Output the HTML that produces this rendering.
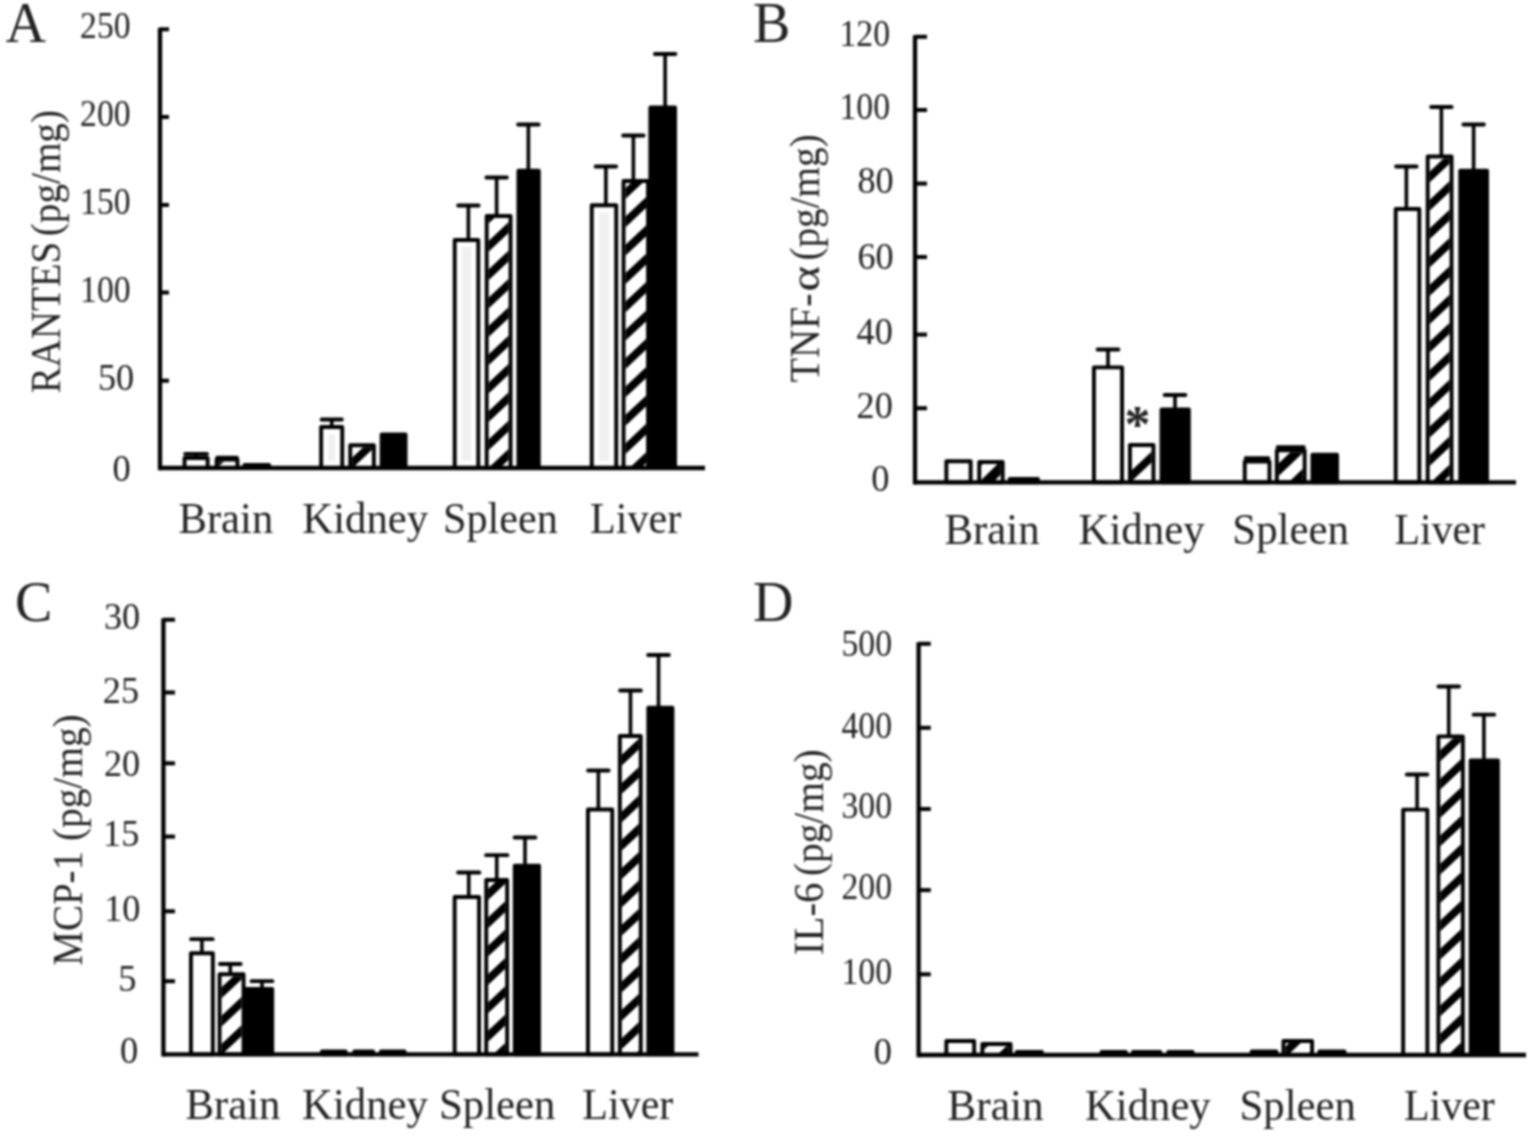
<!DOCTYPE html>
<html lang="en">
<head>
<meta charset="utf-8">
<title>Cytokine levels in tissues</title>
<style>
html,body{margin:0;padding:0;background:#fff;}
body{width:1534px;height:1138px;overflow:hidden;}
svg{display:block;}
text{font-family:"Liberation Serif","Times New Roman",Times,serif;fill:#222;}
</style>
</head>
<body>
<svg role="img" aria-label="Cytokine levels (RANTES, TNF-alpha, MCP-1, IL-6) in brain, kidney, spleen and liver" width="1534" height="1138" viewBox="0 0 1534 1138">
<defs><filter id="soft" color-interpolation-filters="sRGB" x="0" y="0" width="100%" height="100%" filterUnits="objectBoundingBox"><feGaussianBlur stdDeviation="0.8"/></filter></defs>
<rect width="1534" height="1138" fill="#fff"/>
<g filter="url(#soft)">
<rect width="1534" height="1138" fill="#fff"/>
<line x1="196.1" y1="453.8" x2="196.1" y2="457" stroke="#000" stroke-width="3.6" stroke-linecap="butt"/>
<line x1="185.1" y1="453.8" x2="207.1" y2="453.8" stroke="#000" stroke-width="3.8" stroke-linecap="round"/>
<rect x="184.55" y="457.95" width="23.1" height="10.05" fill="#fff" stroke="#000" stroke-width="3.9" stroke-linejoin="round"/>
<line x1="227.05" y1="457.7" x2="227.05" y2="458.6" stroke="#000" stroke-width="3.6" stroke-linecap="butt"/>
<line x1="217.2" y1="457.7" x2="236.9" y2="457.7" stroke="#000" stroke-width="3.8" stroke-linecap="round"/>
<clipPath id="c1"><rect x="218.6" y="461.5" width="16.9" height="6.5"/></clipPath>
<rect x="216.65" y="459.55" width="20.8" height="8.45" fill="#fff" stroke="#000" stroke-width="3.9" stroke-linejoin="round"/>
<path clip-path="url(#c1)" d="M217.6 456.54L236.5 438.77L236.5 449.57L217.6 467.34Z" fill="#000"/>
<rect x="244.45" y="464.95" width="24.6" height="3.05" fill="#000" stroke="#000" stroke-width="3.9" stroke-linejoin="round"/>
<line x1="331.75" y1="419.5" x2="331.75" y2="426" stroke="#000" stroke-width="3.6" stroke-linecap="butt"/>
<line x1="321.6" y1="419.5" x2="341.9" y2="419.5" stroke="#000" stroke-width="3.8" stroke-linecap="round"/>
<rect x="321.15" y="426.95" width="21.1" height="41.05" fill="#fff" stroke="#000" stroke-width="3.9" stroke-linejoin="round"/>
<rect x="328.2" y="434.2" width="7" height="26.3" fill="#f0f0f0"/>
<clipPath id="c2"><rect x="352.2" y="447.2" width="19.7" height="20.8"/></clipPath>
<rect x="350.25" y="445.25" width="23.6" height="22.75" fill="#fff" stroke="#000" stroke-width="3.9" stroke-linejoin="round"/>
<path clip-path="url(#c2)" d="M351.2 373.49L372.9 353.09L372.9 363.89L351.2 384.29ZM351.2 401.84L372.9 381.44L372.9 392.24L351.2 412.64ZM351.2 430.19L372.9 409.79L372.9 420.59L351.2 440.99ZM351.2 458.54L372.9 438.14L372.9 448.94L351.2 469.34ZM351.2 486.89L372.9 466.49L372.9 477.29L351.2 497.69ZM351.2 515.24L372.9 494.84L372.9 505.64L351.2 526.04Z" fill="#000"/>
<rect x="381.65" y="434.45" width="23.9" height="33.55" fill="#000" stroke="#000" stroke-width="3.9" stroke-linejoin="round"/>
<line x1="468.38" y1="205.5" x2="468.38" y2="239" stroke="#000" stroke-width="3.6" stroke-linecap="butt"/>
<line x1="458.1" y1="205.5" x2="478.65" y2="205.5" stroke="#000" stroke-width="3.8" stroke-linecap="round"/>
<rect x="454.7" y="239.95" width="23.6" height="228.05" fill="#fff" stroke="#000" stroke-width="3.9" stroke-linejoin="round"/>
<rect x="461.75" y="247.2" width="9.5" height="213.3" fill="#f0f0f0"/>
<line x1="496.62" y1="177.5" x2="496.62" y2="215" stroke="#000" stroke-width="3.6" stroke-linecap="butt"/>
<line x1="486.35" y1="177.5" x2="506.9" y2="177.5" stroke="#000" stroke-width="3.8" stroke-linecap="round"/>
<clipPath id="c3"><rect x="488.65" y="217.9" width="19.95" height="250.1"/></clipPath>
<rect x="486.7" y="215.95" width="23.85" height="252.05" fill="#fff" stroke="#000" stroke-width="3.9" stroke-linejoin="round"/>
<path clip-path="url(#c3)" d="M487.65 156.84L509.6 136.21L509.6 147.01L487.65 167.64ZM487.65 185.19L509.6 164.56L509.6 175.36L487.65 195.99ZM487.65 213.54L509.6 192.91L509.6 203.71L487.65 224.34ZM487.65 241.89L509.6 221.26L509.6 232.06L487.65 252.69ZM487.65 270.24L509.6 249.61L509.6 260.41L487.65 281.04ZM487.65 298.59L509.6 277.96L509.6 288.76L487.65 309.39ZM487.65 326.94L509.6 306.31L509.6 317.11L487.65 337.74ZM487.65 355.29L509.6 334.66L509.6 345.46L487.65 366.09ZM487.65 383.64L509.6 363.01L509.6 373.81L487.65 394.44ZM487.65 411.99L509.6 391.36L509.6 402.16L487.65 422.79ZM487.65 440.34L509.6 419.71L509.6 430.51L487.65 451.14ZM487.65 468.69L509.6 448.06L509.6 458.86L487.65 479.49ZM487.65 497.04L509.6 476.41L509.6 487.21L487.65 507.84ZM487.65 525.39L509.6 504.76L509.6 515.56L487.65 536.19Z" fill="#000"/>
<line x1="528.38" y1="124.5" x2="528.38" y2="169.75" stroke="#000" stroke-width="3.6" stroke-linecap="butt"/>
<line x1="518.1" y1="124.5" x2="538.65" y2="124.5" stroke="#000" stroke-width="3.8" stroke-linecap="round"/>
<rect x="518.45" y="170.7" width="20.35" height="297.3" fill="#000" stroke="#000" stroke-width="3.9" stroke-linejoin="round"/>
<line x1="605.88" y1="166.5" x2="605.88" y2="204.3" stroke="#000" stroke-width="3.6" stroke-linecap="butt"/>
<line x1="595.6" y1="166.5" x2="616.15" y2="166.5" stroke="#000" stroke-width="3.8" stroke-linecap="round"/>
<rect x="591.75" y="205.25" width="24.5" height="262.75" fill="#fff" stroke="#000" stroke-width="3.9" stroke-linejoin="round"/>
<rect x="598.8" y="212.5" width="10.4" height="248" fill="#f0f0f0"/>
<line x1="633.38" y1="135.5" x2="633.38" y2="180" stroke="#000" stroke-width="3.6" stroke-linecap="butt"/>
<line x1="623.1" y1="135.5" x2="643.65" y2="135.5" stroke="#000" stroke-width="3.8" stroke-linecap="round"/>
<clipPath id="c4"><rect x="625.5" y="182.9" width="20.6" height="285.1"/></clipPath>
<rect x="623.55" y="180.95" width="24.5" height="287.05" fill="#fff" stroke="#000" stroke-width="3.9" stroke-linejoin="round"/>
<path clip-path="url(#c4)" d="M624.5 132.34L647.1 111.1L647.1 121.9L624.5 143.14ZM624.5 160.69L647.1 139.45L647.1 150.25L624.5 171.49ZM624.5 189.04L647.1 167.8L647.1 178.6L624.5 199.84ZM624.5 217.39L647.1 196.15L647.1 206.95L624.5 228.19ZM624.5 245.74L647.1 224.5L647.1 235.3L624.5 256.54ZM624.5 274.09L647.1 252.85L647.1 263.65L624.5 284.89ZM624.5 302.44L647.1 281.2L647.1 292L624.5 313.24ZM624.5 330.79L647.1 309.55L647.1 320.35L624.5 341.59ZM624.5 359.14L647.1 337.9L647.1 348.7L624.5 369.94ZM624.5 387.49L647.1 366.25L647.1 377.05L624.5 398.29ZM624.5 415.84L647.1 394.6L647.1 405.4L624.5 426.64ZM624.5 444.19L647.1 422.95L647.1 433.75L624.5 454.99ZM624.5 472.54L647.1 451.3L647.1 462.1L624.5 483.34ZM624.5 500.89L647.1 479.65L647.1 490.45L624.5 511.69ZM624.5 529.24L647.1 508L647.1 518.8L624.5 540.04Z" fill="#000"/>
<line x1="665.12" y1="54" x2="665.12" y2="106.5" stroke="#000" stroke-width="3.6" stroke-linecap="butt"/>
<line x1="654.85" y1="54" x2="675.4" y2="54" stroke="#000" stroke-width="3.8" stroke-linecap="round"/>
<rect x="650.35" y="107.45" width="24.7" height="360.55" fill="#000" stroke="#000" stroke-width="3.9" stroke-linejoin="round"/>
<line x1="160" y1="27.7" x2="160" y2="470.15" stroke="#000" stroke-width="4.3" stroke-linecap="butt"/>
<line x1="160" y1="468" x2="705" y2="468" stroke="#000" stroke-width="4.3" stroke-linecap="butt"/>
<line x1="160" y1="29.3" x2="169" y2="29.3" stroke="#000" stroke-width="4" stroke-linecap="butt"/>
<text x="130.6" y="38.4" font-size="37.5" text-anchor="end" textLength="50.5" lengthAdjust="spacingAndGlyphs">250</text>
<line x1="160" y1="117" x2="169" y2="117" stroke="#000" stroke-width="4" stroke-linecap="butt"/>
<text x="130.6" y="125.7" font-size="37.5" text-anchor="end" textLength="50.5" lengthAdjust="spacingAndGlyphs">200</text>
<line x1="160" y1="205" x2="169" y2="205" stroke="#000" stroke-width="4" stroke-linecap="butt"/>
<text x="130.6" y="213.6" font-size="37.5" text-anchor="end" textLength="50.5" lengthAdjust="spacingAndGlyphs">150</text>
<line x1="160" y1="292.5" x2="169" y2="292.5" stroke="#000" stroke-width="4" stroke-linecap="butt"/>
<text x="130.6" y="302" font-size="37.5" text-anchor="end" textLength="50.5" lengthAdjust="spacingAndGlyphs">100</text>
<line x1="160" y1="380.7" x2="169" y2="380.7" stroke="#000" stroke-width="4" stroke-linecap="butt"/>
<text x="134.2" y="390" font-size="37.5" text-anchor="end" textLength="36.2" lengthAdjust="spacingAndGlyphs">50</text>
<text x="130.6" y="480.5" font-size="37.5" text-anchor="end" textLength="18.2" lengthAdjust="spacingAndGlyphs">0</text>
<text x="59.7" y="393.3" font-size="41.5" transform="rotate(-90 59.7 393.3)"><tspan textLength="151.5" lengthAdjust="spacingAndGlyphs">RANTES</tspan> <tspan dx="-4.77" textLength="126.2" lengthAdjust="spacingAndGlyphs">(pg/mg)</tspan></text>
<text x="178.5" y="532.5" font-size="45" text-anchor="start" textLength="94.7" lengthAdjust="spacingAndGlyphs">Brain</text>
<text x="302.3" y="532.5" font-size="45" text-anchor="start" textLength="125.9" lengthAdjust="spacingAndGlyphs">Kidney</text>
<text x="443" y="532.5" font-size="45" text-anchor="start" textLength="115" lengthAdjust="spacingAndGlyphs">Spleen</text>
<text x="590" y="532.5" font-size="45" text-anchor="start" textLength="91.3" lengthAdjust="spacingAndGlyphs">Liver</text>
<text x="5.5" y="41.5" font-size="56" text-anchor="start">A</text>
<rect x="946.35" y="461.25" width="24.3" height="21.05" fill="#fff" stroke="#000" stroke-width="3.9" stroke-linejoin="round"/>
<clipPath id="c5"><rect x="981.2" y="464" width="19.5" height="18.3"/></clipPath>
<rect x="979.25" y="462.05" width="23.4" height="20.25" fill="#fff" stroke="#000" stroke-width="3.9" stroke-linejoin="round"/>
<path clip-path="url(#c5)" d="M980.2 395.93L1001.7 374.86L1001.7 388.86L980.2 409.93ZM980.2 424.28L1001.7 403.21L1001.7 417.21L980.2 438.28ZM980.2 452.63L1001.7 431.56L1001.7 445.56L980.2 466.63ZM980.2 480.98L1001.7 459.91L1001.7 473.91L980.2 494.98ZM980.2 509.33L1001.7 488.26L1001.7 502.26L980.2 523.33ZM980.2 537.68L1001.7 516.61L1001.7 530.61L980.2 551.68Z" fill="#000"/>
<rect x="1009.75" y="478.95" width="28.2" height="3.35" fill="#000" stroke="#000" stroke-width="3.9" stroke-linejoin="round"/>
<line x1="1108" y1="349.5" x2="1108" y2="366.4" stroke="#000" stroke-width="3.6" stroke-linecap="butt"/>
<line x1="1097.6" y1="349.5" x2="1118.4" y2="349.5" stroke="#000" stroke-width="3.8" stroke-linecap="round"/>
<rect x="1093.95" y="367.35" width="28.1" height="114.95" fill="#fff" stroke="#000" stroke-width="3.9" stroke-linejoin="round"/>
<clipPath id="c6"><rect x="1131.9" y="446.9" width="19.6" height="35.4"/></clipPath>
<rect x="1129.95" y="444.95" width="23.5" height="37.35" fill="#fff" stroke="#000" stroke-width="3.9" stroke-linejoin="round"/>
<path clip-path="url(#c6)" d="M1130.9 471.04L1152.5 450.74L1152.5 461.54L1130.9 481.84Z" fill="#000"/>
<line x1="1175" y1="395" x2="1175" y2="408.6" stroke="#000" stroke-width="3.6" stroke-linecap="butt"/>
<line x1="1164.6" y1="395" x2="1185.4" y2="395" stroke="#000" stroke-width="3.8" stroke-linecap="round"/>
<rect x="1161.55" y="409.55" width="27.3" height="72.75" fill="#000" stroke="#000" stroke-width="3.9" stroke-linejoin="round"/>
<line x1="1257" y1="458.1" x2="1257" y2="460.6" stroke="#000" stroke-width="3.6" stroke-linecap="butt"/>
<line x1="1245.6" y1="458.1" x2="1268.4" y2="458.1" stroke="#000" stroke-width="3.8" stroke-linecap="round"/>
<rect x="1244.75" y="461.55" width="24.7" height="20.75" fill="#fff" stroke="#000" stroke-width="3.9" stroke-linejoin="round"/>
<line x1="1290.75" y1="447.1" x2="1290.75" y2="449.4" stroke="#000" stroke-width="3.6" stroke-linecap="butt"/>
<line x1="1277.6" y1="447.1" x2="1303.9" y2="447.1" stroke="#000" stroke-width="3.8" stroke-linecap="round"/>
<clipPath id="c7"><rect x="1278.8" y="452.3" width="23.9" height="30"/></clipPath>
<rect x="1276.85" y="450.35" width="27.8" height="31.95" fill="#fff" stroke="#000" stroke-width="3.9" stroke-linejoin="round"/>
<path clip-path="url(#c7)" d="M1277.8 379.15L1303.7 354.55L1303.7 367.05L1277.8 391.65ZM1277.8 407.5L1303.7 382.9L1303.7 395.4L1277.8 420ZM1277.8 435.85L1303.7 411.25L1303.7 423.75L1277.8 448.35ZM1277.8 464.2L1303.7 439.6L1303.7 452.1L1277.8 476.7ZM1277.8 492.55L1303.7 467.95L1303.7 480.45L1277.8 505.05ZM1277.8 520.9L1303.7 496.3L1303.7 508.8L1277.8 533.4Z" fill="#000"/>
<rect x="1312.45" y="454.65" width="24.6" height="27.65" fill="#000" stroke="#000" stroke-width="3.9" stroke-linejoin="round"/>
<line x1="1406.38" y1="166.5" x2="1406.38" y2="208" stroke="#000" stroke-width="3.6" stroke-linecap="butt"/>
<line x1="1396.1" y1="166.5" x2="1416.65" y2="166.5" stroke="#000" stroke-width="3.8" stroke-linecap="round"/>
<rect x="1395.7" y="208.95" width="23.6" height="273.35" fill="#fff" stroke="#000" stroke-width="3.9" stroke-linejoin="round"/>
<line x1="1441.38" y1="107" x2="1441.38" y2="155.5" stroke="#000" stroke-width="3.6" stroke-linecap="butt"/>
<line x1="1431.1" y1="107" x2="1451.65" y2="107" stroke="#000" stroke-width="3.8" stroke-linecap="round"/>
<clipPath id="c8"><rect x="1429.65" y="158.4" width="19.95" height="323.9"/></clipPath>
<rect x="1427.7" y="156.45" width="23.85" height="325.85" fill="#fff" stroke="#000" stroke-width="3.9" stroke-linejoin="round"/>
<path clip-path="url(#c8)" d="M1428.65 87.49L1450.6 66.86L1450.6 77.66L1428.65 98.29ZM1428.65 115.84L1450.6 95.21L1450.6 106.01L1428.65 126.64ZM1428.65 144.19L1450.6 123.56L1450.6 134.36L1428.65 154.99ZM1428.65 172.54L1450.6 151.91L1450.6 162.71L1428.65 183.34ZM1428.65 200.89L1450.6 180.26L1450.6 191.06L1428.65 211.69ZM1428.65 229.24L1450.6 208.61L1450.6 219.41L1428.65 240.04ZM1428.65 257.59L1450.6 236.96L1450.6 247.76L1428.65 268.39ZM1428.65 285.94L1450.6 265.31L1450.6 276.11L1428.65 296.74ZM1428.65 314.29L1450.6 293.66L1450.6 304.46L1428.65 325.09ZM1428.65 342.64L1450.6 322.01L1450.6 332.81L1428.65 353.44ZM1428.65 370.99L1450.6 350.36L1450.6 361.16L1428.65 381.79ZM1428.65 399.34L1450.6 378.71L1450.6 389.51L1428.65 410.14ZM1428.65 427.69L1450.6 407.06L1450.6 417.86L1428.65 438.49ZM1428.65 456.04L1450.6 435.41L1450.6 446.21L1428.65 466.84ZM1428.65 484.39L1450.6 463.76L1450.6 474.56L1428.65 495.19ZM1428.65 512.74L1450.6 492.11L1450.6 502.91L1428.65 523.54ZM1428.65 541.09L1450.6 520.46L1450.6 531.26L1428.65 551.89Z" fill="#000"/>
<line x1="1473.62" y1="124.5" x2="1473.62" y2="169.7" stroke="#000" stroke-width="3.6" stroke-linecap="butt"/>
<line x1="1463.35" y1="124.5" x2="1483.9" y2="124.5" stroke="#000" stroke-width="3.8" stroke-linecap="round"/>
<rect x="1460.25" y="170.65" width="26.8" height="311.65" fill="#000" stroke="#000" stroke-width="3.9" stroke-linejoin="round"/>
<line x1="915" y1="35.2" x2="915" y2="484.45" stroke="#000" stroke-width="4.3" stroke-linecap="butt"/>
<line x1="915" y1="482.3" x2="1516" y2="482.3" stroke="#000" stroke-width="4.3" stroke-linecap="butt"/>
<line x1="915" y1="36.8" x2="927" y2="36.8" stroke="#000" stroke-width="4" stroke-linecap="butt"/>
<text x="890" y="45.6" font-size="37.5" text-anchor="end" textLength="50.5" lengthAdjust="spacingAndGlyphs">120</text>
<line x1="915" y1="110" x2="927" y2="110" stroke="#000" stroke-width="4" stroke-linecap="butt"/>
<text x="890" y="119.2" font-size="37.5" text-anchor="end" textLength="50.5" lengthAdjust="spacingAndGlyphs">100</text>
<line x1="915" y1="183.6" x2="927" y2="183.6" stroke="#000" stroke-width="4" stroke-linecap="butt"/>
<text x="893.7" y="192.8" font-size="37.5" text-anchor="end" textLength="36.2" lengthAdjust="spacingAndGlyphs">80</text>
<line x1="915" y1="257" x2="927" y2="257" stroke="#000" stroke-width="4" stroke-linecap="butt"/>
<text x="893.7" y="269.1" font-size="37.5" text-anchor="end" textLength="36.2" lengthAdjust="spacingAndGlyphs">60</text>
<line x1="915" y1="334.6" x2="927" y2="334.6" stroke="#000" stroke-width="4" stroke-linecap="butt"/>
<text x="892.8" y="343.8" font-size="37.5" text-anchor="end" textLength="36.2" lengthAdjust="spacingAndGlyphs">40</text>
<line x1="915" y1="408.2" x2="927" y2="408.2" stroke="#000" stroke-width="4" stroke-linecap="butt"/>
<text x="892.8" y="418.1" font-size="37.5" text-anchor="end" textLength="36.2" lengthAdjust="spacingAndGlyphs">20</text>
<text x="889.5" y="491.1" font-size="37.5" text-anchor="end" textLength="18.2" lengthAdjust="spacingAndGlyphs">0</text>
<text x="819" y="382.5" font-size="41.5" transform="rotate(-90 819 382.5)"><tspan textLength="89.1" lengthAdjust="spacingAndGlyphs">TNF-</tspan><tspan dx="1.9" textLength="25.5" lengthAdjust="spacingAndGlyphs">α</tspan> <tspan dx="-4.98" textLength="126.4" lengthAdjust="spacingAndGlyphs">(pg/mg)</tspan></text>
<text x="944.5" y="543.75" font-size="45" text-anchor="start" textLength="95.2" lengthAdjust="spacingAndGlyphs">Brain</text>
<text x="1078.5" y="543.75" font-size="45" text-anchor="start" textLength="126.2" lengthAdjust="spacingAndGlyphs">Kidney</text>
<text x="1232.3" y="543.75" font-size="45" text-anchor="start" textLength="116.7" lengthAdjust="spacingAndGlyphs">Spleen</text>
<text x="1394.5" y="543.75" font-size="45" text-anchor="start" textLength="90.5" lengthAdjust="spacingAndGlyphs">Liver</text>
<text x="753" y="41.7" font-size="56" text-anchor="start">B</text>
<text x="1124.5" y="442" font-size="52" font-weight="bold">*</text>
<line x1="201.9" y1="939.2" x2="201.9" y2="952.3" stroke="#000" stroke-width="3.6" stroke-linecap="butt"/>
<line x1="191.1" y1="939.2" x2="212.7" y2="939.2" stroke="#000" stroke-width="3.8" stroke-linecap="round"/>
<rect x="190.95" y="953.25" width="21.9" height="101.15" fill="#fff" stroke="#000" stroke-width="3.9" stroke-linejoin="round"/>
<line x1="230.3" y1="964" x2="230.3" y2="973.3" stroke="#000" stroke-width="3.6" stroke-linecap="butt"/>
<line x1="219.9" y1="964" x2="240.7" y2="964" stroke="#000" stroke-width="3.8" stroke-linecap="round"/>
<clipPath id="c9"><rect x="221.5" y="976.2" width="20.1" height="78.2"/></clipPath>
<rect x="219.55" y="974.25" width="24" height="80.15" fill="#fff" stroke="#000" stroke-width="3.9" stroke-linejoin="round"/>
<path clip-path="url(#c9)" d="M220.5 903.29L242.6 882.52L242.6 893.32L220.5 914.09ZM220.5 931.64L242.6 910.87L242.6 921.67L220.5 942.44ZM220.5 959.99L242.6 939.22L242.6 950.02L220.5 970.79ZM220.5 988.34L242.6 967.57L242.6 978.37L220.5 999.14ZM220.5 1016.69L242.6 995.92L242.6 1006.72L220.5 1027.49ZM220.5 1045.04L242.6 1024.27L242.6 1035.07L220.5 1055.84ZM220.5 1073.39L242.6 1052.62L242.6 1063.42L220.5 1084.19ZM220.5 1101.74L242.6 1080.97L242.6 1091.77L220.5 1112.54Z" fill="#000"/>
<line x1="262" y1="981.2" x2="262" y2="988" stroke="#000" stroke-width="3.6" stroke-linecap="butt"/>
<line x1="251.6" y1="981.2" x2="272.4" y2="981.2" stroke="#000" stroke-width="3.8" stroke-linecap="round"/>
<rect x="245.45" y="988.95" width="26.8" height="65.45" fill="#000" stroke="#000" stroke-width="3.9" stroke-linejoin="round"/>
<rect x="321.95" y="1051.45" width="23.6" height="2.95" fill="#000" stroke="#000" stroke-width="3.9" stroke-linejoin="round"/>
<rect x="354.45" y="1051.45" width="18.6" height="2.95" fill="#000" stroke="#000" stroke-width="3.9" stroke-linejoin="round"/>
<rect x="380.95" y="1051.45" width="23.6" height="2.95" fill="#000" stroke="#000" stroke-width="3.9" stroke-linejoin="round"/>
<line x1="468.75" y1="872.5" x2="468.75" y2="896" stroke="#000" stroke-width="3.6" stroke-linecap="butt"/>
<line x1="458.1" y1="872.5" x2="479.4" y2="872.5" stroke="#000" stroke-width="3.8" stroke-linecap="round"/>
<rect x="454.65" y="896.95" width="24.4" height="157.45" fill="#fff" stroke="#000" stroke-width="3.9" stroke-linejoin="round"/>
<line x1="496.75" y1="855.2" x2="496.75" y2="879" stroke="#000" stroke-width="3.6" stroke-linecap="butt"/>
<line x1="486.1" y1="855.2" x2="507.4" y2="855.2" stroke="#000" stroke-width="3.8" stroke-linecap="round"/>
<clipPath id="c10"><rect x="488.2" y="881.9" width="17" height="172.5"/></clipPath>
<rect x="486.25" y="879.95" width="20.9" height="174.45" fill="#fff" stroke="#000" stroke-width="3.9" stroke-linejoin="round"/>
<path clip-path="url(#c10)" d="M487.2 833.14L506.2 815.28L506.2 826.08L487.2 843.94ZM487.2 861.49L506.2 843.63L506.2 854.43L487.2 872.29ZM487.2 889.84L506.2 871.98L506.2 882.78L487.2 900.64ZM487.2 918.19L506.2 900.33L506.2 911.13L487.2 928.99ZM487.2 946.54L506.2 928.68L506.2 939.48L487.2 957.34ZM487.2 974.89L506.2 957.03L506.2 967.83L487.2 985.69ZM487.2 1003.24L506.2 985.38L506.2 996.18L487.2 1014.04ZM487.2 1031.59L506.2 1013.73L506.2 1024.53L487.2 1042.39ZM487.2 1059.94L506.2 1042.08L506.2 1052.88L487.2 1070.74ZM487.2 1088.29L506.2 1070.43L506.2 1081.23L487.2 1099.09ZM487.2 1116.64L506.2 1098.78L506.2 1109.58L487.2 1127.44Z" fill="#000"/>
<line x1="525" y1="837.5" x2="525" y2="864.7" stroke="#000" stroke-width="3.6" stroke-linecap="butt"/>
<line x1="514.6" y1="837.5" x2="535.4" y2="837.5" stroke="#000" stroke-width="3.8" stroke-linecap="round"/>
<rect x="514.75" y="865.65" width="24.3" height="188.75" fill="#000" stroke="#000" stroke-width="3.9" stroke-linejoin="round"/>
<line x1="598.38" y1="770.5" x2="598.38" y2="808.6" stroke="#000" stroke-width="3.6" stroke-linecap="butt"/>
<line x1="588.1" y1="770.5" x2="608.65" y2="770.5" stroke="#000" stroke-width="3.8" stroke-linecap="round"/>
<rect x="587.95" y="809.55" width="24.3" height="244.85" fill="#fff" stroke="#000" stroke-width="3.9" stroke-linejoin="round"/>
<line x1="630.5" y1="690.5" x2="630.5" y2="735" stroke="#000" stroke-width="3.6" stroke-linecap="butt"/>
<line x1="620.1" y1="690.5" x2="640.9" y2="690.5" stroke="#000" stroke-width="3.8" stroke-linecap="round"/>
<clipPath id="c11"><rect x="621.8" y="737.9" width="17" height="316.5"/></clipPath>
<rect x="619.85" y="735.95" width="20.9" height="318.45" fill="#fff" stroke="#000" stroke-width="3.9" stroke-linejoin="round"/>
<path clip-path="url(#c11)" d="M620.8 670.59L639.8 652.73L639.8 663.53L620.8 681.39ZM620.8 698.94L639.8 681.08L639.8 691.88L620.8 709.74ZM620.8 727.29L639.8 709.43L639.8 720.23L620.8 738.09ZM620.8 755.64L639.8 737.78L639.8 748.58L620.8 766.44ZM620.8 783.99L639.8 766.13L639.8 776.93L620.8 794.79ZM620.8 812.34L639.8 794.48L639.8 805.28L620.8 823.14ZM620.8 840.69L639.8 822.83L639.8 833.63L620.8 851.49ZM620.8 869.04L639.8 851.18L639.8 861.98L620.8 879.84ZM620.8 897.39L639.8 879.53L639.8 890.33L620.8 908.19ZM620.8 925.74L639.8 907.88L639.8 918.68L620.8 936.54ZM620.8 954.09L639.8 936.23L639.8 947.03L620.8 964.89ZM620.8 982.44L639.8 964.58L639.8 975.38L620.8 993.24ZM620.8 1010.79L639.8 992.93L639.8 1003.73L620.8 1021.59ZM620.8 1039.14L639.8 1021.28L639.8 1032.08L620.8 1049.94ZM620.8 1067.49L639.8 1049.63L639.8 1060.43L620.8 1078.29ZM620.8 1095.84L639.8 1077.98L639.8 1088.78L620.8 1106.64Z" fill="#000"/>
<line x1="658.5" y1="655" x2="658.5" y2="706.8" stroke="#000" stroke-width="3.6" stroke-linecap="butt"/>
<line x1="648.1" y1="655" x2="668.9" y2="655" stroke="#000" stroke-width="3.8" stroke-linecap="round"/>
<rect x="648.35" y="707.75" width="24.1" height="346.65" fill="#000" stroke="#000" stroke-width="3.9" stroke-linejoin="round"/>
<line x1="163.4" y1="618.15" x2="163.4" y2="1056.55" stroke="#000" stroke-width="4.3" stroke-linecap="butt"/>
<line x1="163.4" y1="1054.4" x2="698.5" y2="1054.4" stroke="#000" stroke-width="4.3" stroke-linecap="butt"/>
<line x1="163.4" y1="619.75" x2="175" y2="619.75" stroke="#000" stroke-width="4" stroke-linecap="butt"/>
<text x="140.2" y="628.9" font-size="37.5" text-anchor="end" textLength="36.2" lengthAdjust="spacingAndGlyphs">30</text>
<line x1="163.4" y1="692.5" x2="175" y2="692.5" stroke="#000" stroke-width="4" stroke-linecap="butt"/>
<text x="139" y="702.5" font-size="37.5" text-anchor="end" textLength="36.2" lengthAdjust="spacingAndGlyphs">25</text>
<line x1="163.4" y1="763.3" x2="175" y2="763.3" stroke="#000" stroke-width="4" stroke-linecap="butt"/>
<text x="140.2" y="776.1" font-size="37.5" text-anchor="end" textLength="36.2" lengthAdjust="spacingAndGlyphs">20</text>
<line x1="163.4" y1="836.6" x2="175" y2="836.6" stroke="#000" stroke-width="4" stroke-linecap="butt"/>
<text x="139.3" y="845.8" font-size="37.5" text-anchor="end" textLength="36.2" lengthAdjust="spacingAndGlyphs">15</text>
<line x1="163.4" y1="911.3" x2="175" y2="911.3" stroke="#000" stroke-width="4" stroke-linecap="butt"/>
<text x="140.4" y="920.5" font-size="37.5" text-anchor="end" textLength="36.2" lengthAdjust="spacingAndGlyphs">10</text>
<line x1="163.4" y1="981.2" x2="175" y2="981.2" stroke="#000" stroke-width="4" stroke-linecap="butt"/>
<text x="136.5" y="990.8" font-size="37.5" text-anchor="end" textLength="18.2" lengthAdjust="spacingAndGlyphs">5</text>
<text x="138.2" y="1063.3" font-size="37.5" text-anchor="end" textLength="18.2" lengthAdjust="spacingAndGlyphs">0</text>
<text x="81.6" y="965.7" font-size="41.5" transform="rotate(-90 81.6 965.7)"><tspan textLength="114.7" lengthAdjust="spacingAndGlyphs">MCP-1</tspan> <tspan dx="-0.47" textLength="126.8" lengthAdjust="spacingAndGlyphs">(pg/mg)</tspan></text>
<text x="185.5" y="1119" font-size="45" text-anchor="start" textLength="95" lengthAdjust="spacingAndGlyphs">Brain</text>
<text x="302" y="1119" font-size="45" text-anchor="start" textLength="126" lengthAdjust="spacingAndGlyphs">Kidney</text>
<text x="439" y="1119" font-size="45" text-anchor="start" textLength="116.5" lengthAdjust="spacingAndGlyphs">Spleen</text>
<text x="582.3" y="1119" font-size="45" text-anchor="start" textLength="91" lengthAdjust="spacingAndGlyphs">Liver</text>
<text x="15" y="621.3" font-size="56" text-anchor="start">C</text>
<rect x="946.35" y="1040.95" width="27.8" height="14.05" fill="#fff" stroke="#000" stroke-width="3.9" stroke-linejoin="round"/>
<clipPath id="c12"><rect x="984.3" y="1046" width="24.3" height="9"/></clipPath>
<rect x="982.35" y="1044.05" width="28.2" height="10.95" fill="#fff" stroke="#000" stroke-width="3.9" stroke-linejoin="round"/>
<path clip-path="url(#c12)" d="M983.3 982.84L1009.6 958.12L1009.6 968.92L983.3 993.64ZM983.3 1011.19L1009.6 986.47L1009.6 997.27L983.3 1021.99ZM983.3 1039.54L1009.6 1014.82L1009.6 1025.62L983.3 1050.34ZM983.3 1067.89L1009.6 1043.17L1009.6 1053.97L983.3 1078.69ZM983.3 1096.24L1009.6 1071.52L1009.6 1082.32L983.3 1107.04Z" fill="#000"/>
<rect x="1016.75" y="1051.95" width="25.1" height="3.05" fill="#000" stroke="#000" stroke-width="3.9" stroke-linejoin="round"/>
<rect x="1101.55" y="1051.95" width="24.3" height="3.05" fill="#000" stroke="#000" stroke-width="3.9" stroke-linejoin="round"/>
<rect x="1132.95" y="1051.95" width="27.3" height="3.05" fill="#000" stroke="#000" stroke-width="3.9" stroke-linejoin="round"/>
<rect x="1168.35" y="1051.95" width="24.2" height="3.05" fill="#000" stroke="#000" stroke-width="3.9" stroke-linejoin="round"/>
<rect x="1251.75" y="1051.45" width="24.6" height="3.55" fill="#000" stroke="#000" stroke-width="3.9" stroke-linejoin="round"/>
<clipPath id="c13"><rect x="1285.4" y="1042.9" width="24.7" height="12.1"/></clipPath>
<rect x="1283.45" y="1040.95" width="28.6" height="14.05" fill="#fff" stroke="#000" stroke-width="3.9" stroke-linejoin="round"/>
<path clip-path="url(#c13)" d="M1284.4 990.84L1311.1 965.74L1311.1 976.54L1284.4 1001.64ZM1284.4 1019.19L1311.1 994.09L1311.1 1004.89L1284.4 1029.99ZM1284.4 1047.54L1311.1 1022.44L1311.1 1033.24L1284.4 1058.34ZM1284.4 1075.89L1311.1 1050.79L1311.1 1061.59L1284.4 1086.69ZM1284.4 1104.24L1311.1 1079.14L1311.1 1089.94L1284.4 1115.04Z" fill="#000"/>
<rect x="1319.45" y="1051.45" width="25" height="3.55" fill="#000" stroke="#000" stroke-width="3.9" stroke-linejoin="round"/>
<line x1="1417.1" y1="774.5" x2="1417.1" y2="808.7" stroke="#000" stroke-width="3.6" stroke-linecap="butt"/>
<line x1="1406.8" y1="774.5" x2="1427.4" y2="774.5" stroke="#000" stroke-width="3.8" stroke-linecap="round"/>
<rect x="1403.15" y="809.65" width="24.2" height="245.35" fill="#fff" stroke="#000" stroke-width="3.9" stroke-linejoin="round"/>
<line x1="1448.75" y1="686.5" x2="1448.75" y2="735.4" stroke="#000" stroke-width="3.6" stroke-linecap="butt"/>
<line x1="1438.4" y1="686.5" x2="1459.1" y2="686.5" stroke="#000" stroke-width="3.8" stroke-linecap="round"/>
<clipPath id="c14"><rect x="1440.3" y="738.3" width="20.6" height="316.7"/></clipPath>
<rect x="1438.35" y="736.35" width="24.5" height="318.65" fill="#fff" stroke="#000" stroke-width="3.9" stroke-linejoin="round"/>
<path clip-path="url(#c14)" d="M1439.3 666.19L1461.9 644.95L1461.9 655.75L1439.3 676.99ZM1439.3 694.54L1461.9 673.3L1461.9 684.1L1439.3 705.34ZM1439.3 722.89L1461.9 701.65L1461.9 712.45L1439.3 733.69ZM1439.3 751.24L1461.9 730L1461.9 740.8L1439.3 762.04ZM1439.3 779.59L1461.9 758.35L1461.9 769.15L1439.3 790.39ZM1439.3 807.94L1461.9 786.7L1461.9 797.5L1439.3 818.74ZM1439.3 836.29L1461.9 815.05L1461.9 825.85L1439.3 847.09ZM1439.3 864.64L1461.9 843.4L1461.9 854.2L1439.3 875.44ZM1439.3 892.99L1461.9 871.75L1461.9 882.55L1439.3 903.79ZM1439.3 921.34L1461.9 900.1L1461.9 910.9L1439.3 932.14ZM1439.3 949.69L1461.9 928.45L1461.9 939.25L1439.3 960.49ZM1439.3 978.04L1461.9 956.8L1461.9 967.6L1439.3 988.84ZM1439.3 1006.39L1461.9 985.15L1461.9 995.95L1439.3 1017.19ZM1439.3 1034.74L1461.9 1013.5L1461.9 1024.3L1439.3 1045.54ZM1439.3 1063.09L1461.9 1041.85L1461.9 1052.65L1439.3 1073.89ZM1439.3 1091.44L1461.9 1070.2L1461.9 1081L1439.3 1102.24Z" fill="#000"/>
<line x1="1483.9" y1="714.7" x2="1483.9" y2="759.5" stroke="#000" stroke-width="3.6" stroke-linecap="butt"/>
<line x1="1473.6" y1="714.7" x2="1494.2" y2="714.7" stroke="#000" stroke-width="3.8" stroke-linecap="round"/>
<rect x="1470.65" y="760.45" width="27.3" height="294.55" fill="#000" stroke="#000" stroke-width="3.9" stroke-linejoin="round"/>
<line x1="918.6" y1="642.2" x2="918.6" y2="1057.15" stroke="#000" stroke-width="4.3" stroke-linecap="butt"/>
<line x1="918.6" y1="1055" x2="1526" y2="1055" stroke="#000" stroke-width="4.3" stroke-linecap="butt"/>
<line x1="918.6" y1="643.8" x2="930.75" y2="643.8" stroke="#000" stroke-width="4" stroke-linecap="butt"/>
<text x="892" y="656.3" font-size="37.5" text-anchor="end" textLength="50.5" lengthAdjust="spacingAndGlyphs">500</text>
<line x1="918.6" y1="727.8" x2="930.75" y2="727.8" stroke="#000" stroke-width="4" stroke-linecap="butt"/>
<text x="892" y="738" font-size="37.5" text-anchor="end" textLength="50.5" lengthAdjust="spacingAndGlyphs">400</text>
<line x1="918.6" y1="809" x2="930.75" y2="809" stroke="#000" stroke-width="4" stroke-linecap="butt"/>
<text x="892" y="818.2" font-size="37.5" text-anchor="end" textLength="50.5" lengthAdjust="spacingAndGlyphs">300</text>
<line x1="918.6" y1="890.1" x2="930.75" y2="890.1" stroke="#000" stroke-width="4" stroke-linecap="butt"/>
<text x="892" y="899.4" font-size="37.5" text-anchor="end" textLength="50.5" lengthAdjust="spacingAndGlyphs">200</text>
<line x1="918.6" y1="974.3" x2="930.75" y2="974.3" stroke="#000" stroke-width="4" stroke-linecap="butt"/>
<text x="892" y="983.8" font-size="37.5" text-anchor="end" textLength="50.5" lengthAdjust="spacingAndGlyphs">100</text>
<text x="892" y="1064.3" font-size="37.5" text-anchor="end" textLength="18.2" lengthAdjust="spacingAndGlyphs">0</text>
<text x="823.3" y="955.2" font-size="41.5" transform="rotate(-90 823.3 955.2)"><tspan textLength="72.7" lengthAdjust="spacingAndGlyphs">IL-6</tspan> <tspan dx="-3.97" textLength="126.8" lengthAdjust="spacingAndGlyphs">(pg/mg)</tspan></text>
<text x="947.3" y="1119.5" font-size="45" text-anchor="start" textLength="96.4" lengthAdjust="spacingAndGlyphs">Brain</text>
<text x="1085" y="1119.5" font-size="45" text-anchor="start" textLength="125.7" lengthAdjust="spacingAndGlyphs">Kidney</text>
<text x="1239.5" y="1119.5" font-size="45" text-anchor="start" textLength="116.5" lengthAdjust="spacingAndGlyphs">Spleen</text>
<text x="1404" y="1119.5" font-size="45" text-anchor="start" textLength="90.8" lengthAdjust="spacingAndGlyphs">Liver</text>
<text x="753" y="621" font-size="56" text-anchor="start">D</text>
</g>
</svg>
</body>
</html>
